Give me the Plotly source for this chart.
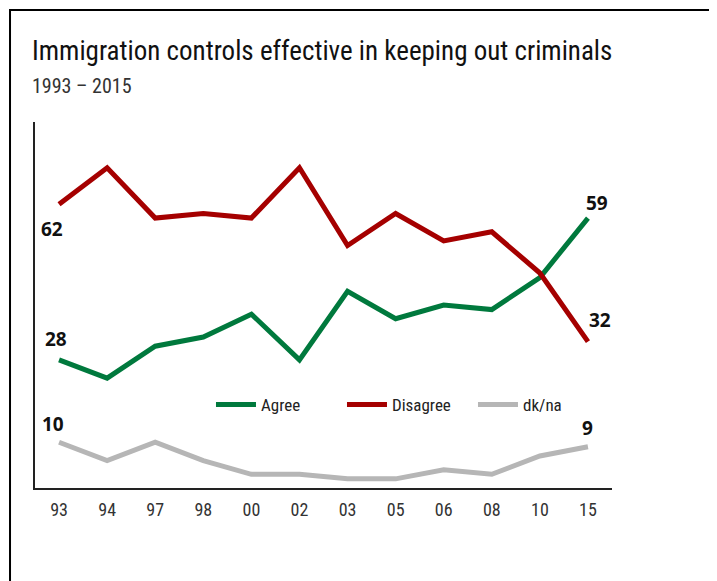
import plotly.graph_objects as go

years = ["93", "94", "97", "98", "00", "02", "03", "05", "06", "08", "10", "15"]
agree = [28, 24, 31, 33, 38, 28, 43, 37, 40, 39, 46, 59]
disagree = [62, 70, 59, 60, 59, 70, 53, 60, 54, 56, 47, 32]
dkna = [10, 6, 10, 6, 3, 3, 2, 2, 4, 3, 7, 9]

GREEN = "#00793D"
RED = "#A50000"
GRAY = "#B6B6B6"
FONT = "Liberation Sans Narrow, Roboto Condensed, Roboto, sans-serif"

fig = go.Figure()
for name, vals, col in [("Agree", agree, GREEN), ("Disagree", disagree, RED), ("dk/na", dkna, GRAY)]:
    fig.add_trace(go.Scatter(x=years, y=vals, name=name, mode="lines",
                             line=dict(color=col, width=5), hoverinfo="skip"))

# end-point value labels (x given as category index)
first, last = 0, len(years) - 1
labels = [
    (first, disagree[first], -7, -25),
    (first, agree[first], -3, 21),
    (first, dkna[first], -6, 18),
    (last, agree[last], 9, 15),
    (last, disagree[last], 12, 22),
    (last, dkna[last], 0, 19),
]
for x, y, dx, dy in labels:
    fig.add_annotation(x=x, y=y, text=f"<b>{y}</b>", showarrow=False,
                       xshift=dx, yshift=dy,
                       font=dict(family="Open Sans, sans-serif", size=19, color="#111111"))

fig.add_annotation(xref="paper", yref="paper", x=-0.008, y=1.0, yshift=53, xanchor="left", yanchor="bottom",
                   text="Immigration controls effective in keeping out criminals", showarrow=False,
                   font=dict(family=FONT, size=27, color="#111111"))
fig.add_annotation(xref="paper", yref="paper", x=-0.008, y=1.0, yshift=22, xanchor="left", yanchor="bottom",
                   text="1993 – 2015", showarrow=False,
                   font=dict(family=FONT, size=20, color="#333333"))

# frame around the chart
fig.add_shape(type="rect", xref="paper", yref="paper", x0=-0.0433, x1=1.1785, y0=-0.6, y1=1.3058,
              line=dict(color="black", width=2), fillcolor="rgba(0,0,0,0)", layer="above")

fig.update_layout(
    width=717, height=581,
    margin=dict(l=27, r=113, t=114, b=101),
    paper_bgcolor="white", plot_bgcolor="white",
    showlegend=True,
    legend=dict(orientation="h", x=0.305, y=0.227, xanchor="left", yanchor="middle",
                font=dict(family=FONT, size=17, color="#222222"), itemwidth=40,
                entrywidth=76, bgcolor="rgba(0,0,0,0)"),
    xaxis=dict(type="category", range=[-0.5, 11.5], showline=True, linecolor="#222222", linewidth=1.5,
               showgrid=False, ticks="", ticklabelstandoff=5,
               tickfont=dict(family=FONT, size=18, color="#333333"),
               zeroline=False, fixedrange=True),
    yaxis=dict(range=[0, 80], showline=True, linecolor="#222222", linewidth=1.5, showgrid=False,
               showticklabels=False, ticks="", zeroline=False, fixedrange=True),
)

fig.write_html("out.html")
